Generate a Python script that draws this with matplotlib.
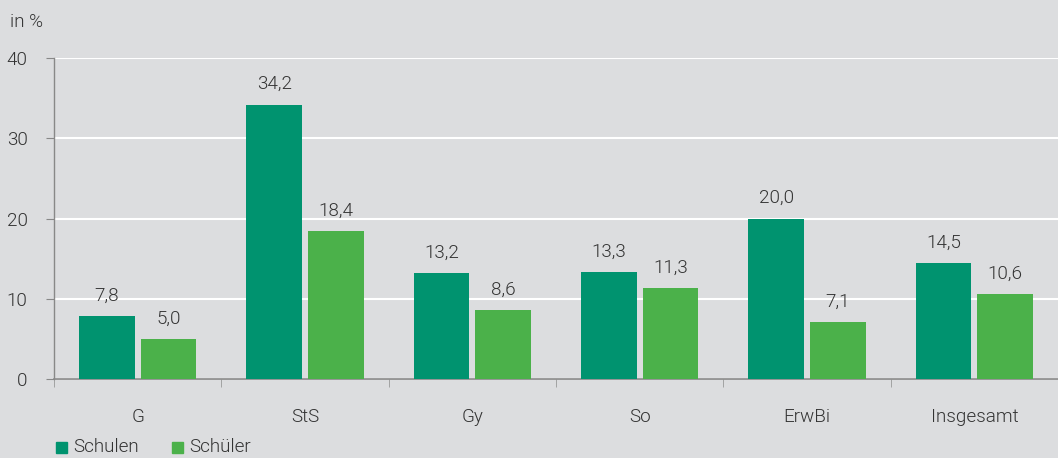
import matplotlib
matplotlib.use("Agg")
import matplotlib.pyplot as plt
from matplotlib.patches import Rectangle
import numpy as np

categories = ["G", "StS", "Gy", "So", "ErwBi", "Insgesamt"]
schulen = [7.8, 34.2, 13.2, 13.3, 20.0, 14.5]
schueler = [5.0, 18.4, 8.6, 11.3, 7.1, 10.6]
series_names = ["Schulen", "Schüler"]
yticks = [0, 10, 20, 30, 40]

c1 = "#00936F"
c2 = "#4BB14A"
bg = "#DCDDDF"
txt = "#333333"
plt.rcParams['font.family'] = ['Roboto', 'DejaVu Sans']
plt.rcParams['font.weight'] = 300
FS = 13.6

fig = plt.figure(figsize=(10.58, 4.58), dpi=100)
fig.patch.set_facecolor(bg)
ax = fig.add_axes([54/1058, 1-379/458, 1-54/1058, (379-58)/458])
ax.set_facecolor(bg)

x = np.arange(len(categories))
w = 0.333
gap = 0.036
b1 = ax.bar(x - gap/2 - w/2, schulen, w, color=c1, zorder=3)
b2 = ax.bar(x + gap/2 + w/2, schueler, w, color=c2, zorder=3)
for bars, vals in ((b1, schulen), (b2, schueler)):
    for r, v in zip(bars, vals):
        ax.annotate(f"{v:.1f}".replace(".", ","), (r.get_x() + r.get_width()/2, v),
                    xytext=(0, 11), textcoords="offset points",
                    ha="center", va="baseline", fontsize=FS, color=txt)

ax.set_xlim(-0.5, len(categories) - 0.5)
ax.set_ylim(0, 40)
ax.set_yticks(yticks)
ax.set_yticklabels([str(t) for t in yticks], fontsize=FS, color=txt)
ax.yaxis.grid(True, color="white", linewidth=1.5, zorder=0)
ax.set_axisbelow(True)
ax.set_xticks(x)
ax.set_xticklabels(categories, fontsize=FS, color=txt)
ax.tick_params(axis="x", length=0, pad=21)
ax.set_xticks(np.arange(len(categories) + 1) - 0.5, minor=True)
ax.tick_params(axis="x", which="minor", length=6, color="#999999", direction="out")
ax.tick_params(axis="y", length=6, color="#888888", pad=13)
for s in ["top", "right"]:
    ax.spines[s].set_visible(False)
ax.spines["left"].set_color("#888888")
ax.spines["bottom"].set_color("#888888")
ax.spines["left"].set_linewidth(1)
ax.spines["bottom"].set_linewidth(1.2)

fig.text(10/1058, 1-22/458, "in %", fontsize=FS, color=txt, va="center", ha="left")

# legend
for name, col, px in ((series_names[0], c1, 56), (series_names[1], c2, 172)):
    fig.patches.append(Rectangle((px/1058, 1-453/458), 11/1058, 11/458,
                                 transform=fig.transFigure, color=col))
    fig.text((px+17)/1058, 1-447/458, name, fontsize=FS, color=txt, va="center", ha="left")

fig.savefig("out.png", dpi=100, facecolor=bg)
